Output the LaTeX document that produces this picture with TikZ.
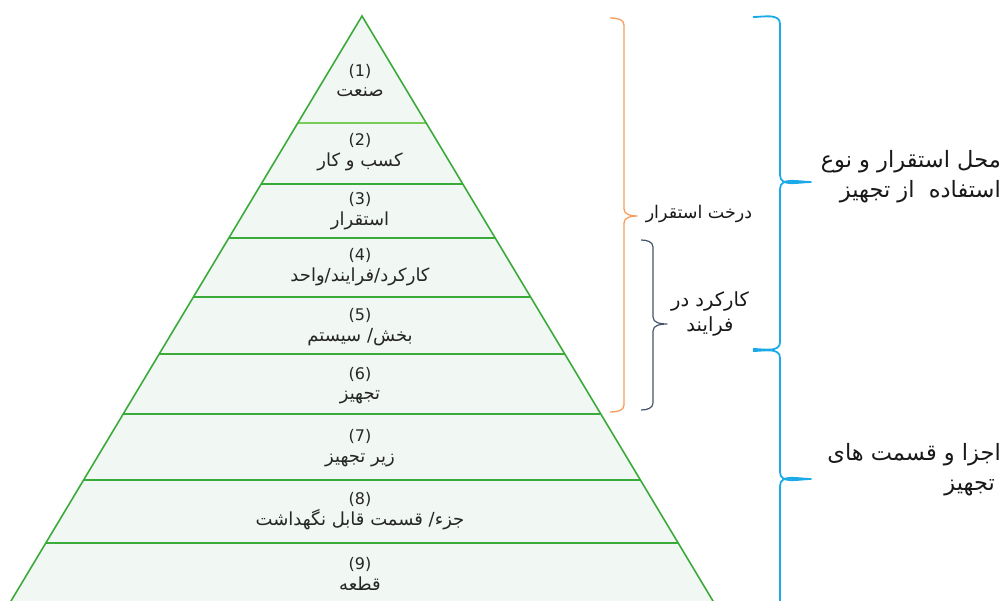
\documentclass[tikz,border=0pt]{standalone}
\usepackage{fontspec}
\setmainfont{DejaVu Sans}
\newfontfamily\arabicfont[Script=Arabic]{DejaVu Sans}
\TeXXeTstate=1
\definecolor{pyrfill}{HTML}{F1F7F3}
\definecolor{pyrline}{HTML}{3AAA3A}
\definecolor{pyrlight}{HTML}{7ACC5A}
\definecolor{orangeb}{HTML}{F59D5E}
\definecolor{navyb}{HTML}{44546A}
\definecolor{blueb}{HTML}{1AAAE8}
\newcommand\fs[1]{\fontsize{#1}{20}\selectfont}
\newcommand\mybrace[8]{% color, width, x0, xs, xt, ytop, ymid, ybot
  \draw[#1, line width=#2, line join=round]
    (#3,-#6) to[out=0,in=90] (#4,-#6-7) -- (#4,-#7+7) to[out=-90,in=180] (#5,-#7)
    to[out=180,in=90] (#4,-#7-7) -- (#4,-#8+7) to[out=-90,in=0] (#3,-#8);}
\begin{document}
\begin{tikzpicture}[x=1pt,y=1pt,
  lvl/.style={align=center, inner sep=0pt, text=black!85, font=\fontsize{16}{20.5}\selectfont},
  lbl/.style={inner sep=0pt, text=black!90},
  lvlline/.style={pyrline, line width=1.6pt}]
\useasboundingbox (0,0) rectangle (1003,-601);
\begin{scope}
\clip (0,0) rectangle (1003,-601);
\fill[pyrfill] (362,-16) -- ({362-0.6*604},-620) -- ({362+0.6*604},-620) -- cycle;
\draw[pyrlight, line width=1.6pt] ({362-0.6*107},-123) -- ({362+0.6*107},-123);
\foreach \y in {184,238,297,354,414,480,543}
  \draw[lvlline] ({362-0.6*(\y-16)},-\y) -- ({362+0.6*(\y-16)},-\y);
\draw[lvlline, line join=miter] ({362-0.6*604},-620) -- (362,-16) -- ({362+0.6*604},-620);
\end{scope}
\node[lvl] (l1) at (360,-80.5) {(1)\\{\fs{18}\arabicfont\beginR صنعت\endR}};
\node[lvl] (l2) at (360,-152) {(2)\\{\fs{18}\arabicfont\beginR کسب و کار\endR}};
\node[lvl] (l3) at (360,-211) {(3)\\{\fs{18}\arabicfont\beginR استقرار\endR}};
\node[lvl] (l4) at (360,-267) {(4)\\{\fs{18}\arabicfont\beginR کارکرد/فرایند/واحد\endR}};
\node[lvl] (l5) at (360,-327) {(5)\\{\fs{18}\arabicfont\beginR بخش/ سیستم\endR}};
\node[lvl] (l6) at (360,-385.5) {(6)\\{\fs{18}\arabicfont\beginR تجهیز\endR}};
\node[lvl] (l7) at (360,-448) {(7)\\{\fs{18}\arabicfont\beginR زیر تجهیز\endR}};
\node[lvl] (l8) at (360,-511) {(8)\\{\fs{18}\arabicfont\beginR جزء/ قسمت قابل نگهداشت\endR}};
\node[lvl] (l9) at (360,-574) {(9)\\{\fs{18}\arabicfont\beginR قطعه\endR}};
\mybrace{orangeb}{1.3pt}{610}{624}{637}{18}{216}{412}
\mybrace{navyb}{1.2pt}{641}{653}{667}{240}{324}{410}
\mybrace{blueb}{1.8pt}{753}{780}{811}{17}{182}{349}
\mybrace{blueb}{1.8pt}{753}{780}{811}{351}{479}{625}
\node[lbl, font=\fontsize{17.5}{25}\selectfont] (t1) at (699,-214) {\arabicfont\beginR درخت استقرار\endR};
\node[lbl, align=center, font=\fontsize{19.5}{25}\selectfont] (t2) at (710,-314) {{\arabicfont\beginR کارکرد در\endR}\\{\arabicfont\beginR فرایند\endR}};
\node[lbl, align=right, anchor=east, font=\fontsize{22.5}{30}\selectfont] (t3) at (1001,-177) {{\arabicfont\beginR محل استقرار و نوع\endR}\\{\arabicfont\beginR استفاده\ \ از تجهیز\endR}};
\node[lbl, align=right, anchor=east, font=\fontsize{22.5}{30}\selectfont] (t4) at (1001,-470) {{\arabicfont\beginR اجزا و قسمت های\endR}\\{\arabicfont\beginR تجهیز\endR}\hspace*{6pt}};
\end{tikzpicture}
\end{document}
